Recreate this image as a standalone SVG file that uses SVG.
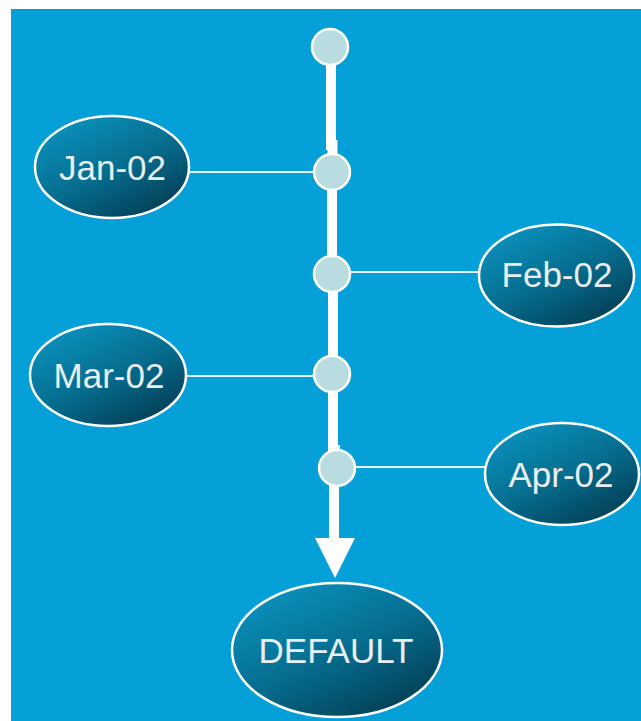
<svg xmlns="http://www.w3.org/2000/svg" width="641" height="721" viewBox="0 0 641 721">
<defs>
<linearGradient id="g" x1="0.2" y1="0.1" x2="0.8" y2="0.9">
<stop offset="0" stop-color="#0A8DB8"/>
<stop offset="0.5" stop-color="#066E90"/>
<stop offset="1" stop-color="#03435A"/>
</linearGradient>
<style>
.node ellipse{fill:url(#g);stroke:#fff;stroke-width:2.5}
.node text{font-family:"Liberation Sans",Arial,sans-serif;font-size:35px;fill:#E8EEF1;text-anchor:middle}
.dot{fill:#B8DCDF;stroke:#fff;stroke-width:2.5}
.thin{stroke:#E6F4F8;stroke-width:2;fill:none}
.spine{stroke:#fff;stroke-width:10;fill:none}
</style>
</defs>
<rect x="11" y="9" width="630" height="712" fill="#06A0D8"/>
<g id="connectors">
<path class="spine" d="M331 47 L331 145 L332.5 145 L332.5 172 M332 172 L332 274 M333 274 L333 374 M333 374 L333 450 L335 450 L335 468 M334 468 L334 540"/>
<polygon points="315,538 355,538 335,578" fill="#fff"/>
<line class="thin" x1="189" y1="172" x2="313" y2="172"/>
<line class="thin" x1="350" y1="272" x2="480" y2="272"/>
<line class="thin" x1="186" y1="376" x2="313" y2="376"/>
<line class="thin" x1="355" y1="467" x2="486" y2="467"/>
</g>
<g id="dot-start"><circle class="dot" cx="330" cy="47" r="18"/></g>
<g id="dot-jan"><circle class="dot" cx="332" cy="172" r="18"/></g>
<g id="dot-feb"><circle class="dot" cx="332" cy="274" r="18"/></g>
<g id="dot-mar"><circle class="dot" cx="332" cy="374" r="18"/></g>
<g id="dot-apr"><circle class="dot" cx="337" cy="468" r="18"/></g>
<g id="jan" class="node"><ellipse cx="112" cy="167" rx="77" ry="51"/><text x="112.5" y="180">Jan-02</text></g>
<g id="feb" class="node"><ellipse cx="556.5" cy="275.5" rx="77.5" ry="51"/><text x="557" y="287">Feb-02</text></g>
<g id="mar" class="node"><ellipse cx="108" cy="375" rx="78" ry="51"/><text x="109" y="388">Mar-02</text></g>
<g id="apr" class="node"><ellipse cx="562" cy="474" rx="77" ry="51"/><text x="561" y="487">Apr-02</text></g>
<g id="default" class="node"><ellipse cx="337" cy="650" rx="105" ry="67"/><text x="336" y="663">DEFAULT</text></g>
</svg>
